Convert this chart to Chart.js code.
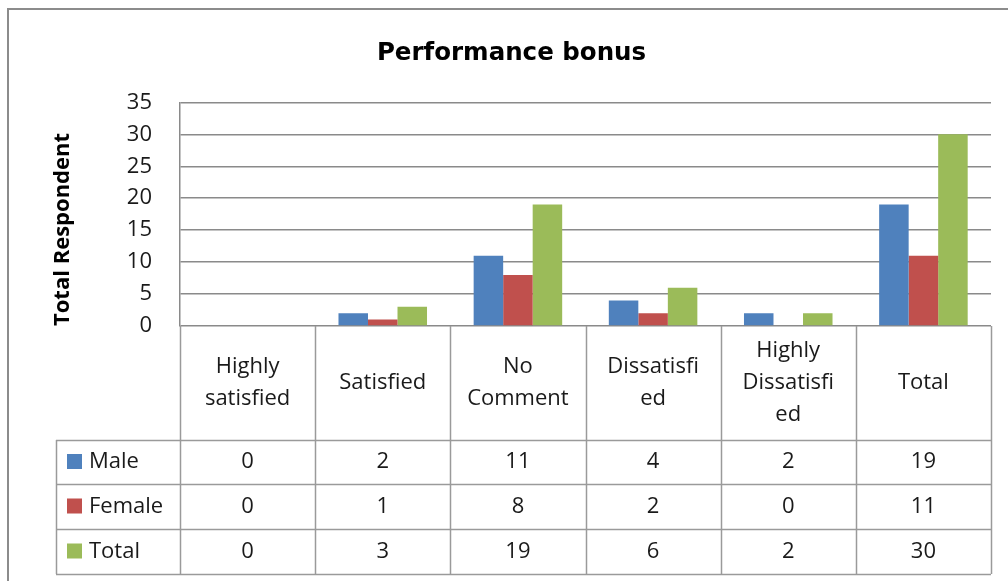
<!DOCTYPE html>
<html>
<head>
<meta charset="utf-8">
<script src="https://cdn.jsdelivr.net/npm/chart.js@4"></script>
<style>
  html, body { margin: 0; padding: 0; background: #fff; }
  #wrap { width: 1008px; height: 581px; }
</style>
</head>
<body>
<div id="wrap"><canvas id="bonusChart" width="1008" height="581"></canvas></div>
<script>
const categories = [
    ['Highly', 'satisfied'], 'Satisfied', ['No', 'Comment'],
    ['Dissatisfi', 'ed'], ['Highly', 'Dissatisfi', 'ed'], 'Total'
];
const maleValues = [0, 2, 11, 4, 2, 19];
const femaleValues = [0, 1, 8, 2, 0, 11];
const totalValues = [0, 3, 19, 6, 2, 30];
const yTicks = [0, 5, 10, 15, 20, 25, 30, 35];

const gridGray = '#8a8a8a';
const tableGray = '#9a9a9a';
const textFont = '"Open Sans", sans-serif';

// draws the outer frame and the data table under the plot
const tablePlugin = {
    id: 'dataTable',
    beforeDraw(chart) {
        const c = chart.ctx;
        c.save();
        c.strokeStyle = '#8c8c8c';
        c.lineWidth = 2;
        c.beginPath();
        c.moveTo(8, chart.height);
        c.lineTo(8, 9);
        c.lineTo(chart.width, 9);
        c.stroke();
        c.restore();
    },
    afterDraw(chart) {
        const c = chart.ctx;
        const xs = chart.scales.x;
        const area = chart.chartArea;
        const n = categories.length;
        const colW = (area.right - area.left) / n;
        const headTop = area.bottom;
        const headBottom = headTop + 114;
        const rowH = [44, 45, 45];
        const legendLeft = 56;

        c.save();
        c.strokeStyle = tableGray;
        c.lineWidth = 1.5;

        // vertical lines
        c.beginPath();
        for (let i = 0; i <= n; i++) {
            const x = Math.round(area.left + i * colW) + 0.5;
            c.moveTo(x, headTop);
            c.lineTo(x, headBottom + rowH[0] + rowH[1] + rowH[2]);
        }
        c.moveTo(legendLeft + 0.5, headBottom);
        c.lineTo(legendLeft + 0.5, headBottom + rowH[0] + rowH[1] + rowH[2]);
        // horizontal lines
        let y = headBottom;
        for (let r = 0; r <= 3; r++) {
            const yy = Math.round(y) + 0.5;
            c.moveTo(legendLeft, yy);
            c.lineTo(area.right, yy);
            if (r < 3) y += rowH[r];
        }
        c.stroke();

        // header labels
        c.fillStyle = '#1a1a1a';
        c.font = '22px ' + textFont;
        c.textAlign = 'center';
        c.textBaseline = 'middle';
        const headMid = (headTop + headBottom) / 2;
        categories.forEach((lab, i) => {
            const lines = Array.isArray(lab) ? lab : [lab];
            const cx = xs.getPixelForValue(i);
            const lh = 32;
            const y0 = headMid - (lines.length - 1) * lh / 2;
            lines.forEach((t, k) => c.fillText(t, cx, y0 + k * lh));
        });

        // rows
        let top = headBottom;
        chart.data.datasets.forEach((ds, r) => {
            const mid = top + rowH[r] / 2;
            c.fillStyle = ds.backgroundColor;
            c.fillRect(67, mid - 8, 15, 15);
            c.fillStyle = '#1a1a1a';
            c.textAlign = 'left';
            c.fillText(ds.label, 89, mid);
            c.textAlign = 'center';
            ds.data.forEach((v, i) => {
                c.fillText(String(v), xs.getPixelForValue(i), mid);
            });
            top += rowH[r];
        });
        c.restore();
    }
};

const config = {
    type: 'bar',
    data: {
        labels: categories,
        datasets: [
            { label: 'Male', data: maleValues, backgroundColor: '#4F81BD' },
            { label: 'Female', data: femaleValues, backgroundColor: '#C0504D' },
            { label: 'Total', data: totalValues, backgroundColor: '#9BBB59' }
        ]
    },
    options: {
        responsive: false,
        animation: false,
        categoryPercentage: 0.655,
        barPercentage: 1.0,
        layout: {
            padding: { left: 32, right: 17, top: 0, bottom: 255 }
        },
        plugins: {
            legend: { display: false },
            tooltip: { enabled: false },
            title: {
                display: true,
                text: 'Performance bonus',
                color: '#000',
                font: { family: '"DejaVu Sans", sans-serif', size: 24.5, weight: 'bold', lineHeight: 1.2 },
                padding: { top: 39, bottom: 34 }
            }
        },
        scales: {
            x: {
                display: false
            },
            y: {
                min: 0,
                max: 35,
                afterFit(scale) { scale.width = 148; },
                afterBuildTicks(scale) {
                    scale.ticks = yTicks.map(v => ({ value: v }));
                },
                grid: {
                    color: gridGray,
                    lineWidth: 1.5,
                    drawTicks: false
                },
                border: { display: true, color: gridGray, width: 1.5 },
                ticks: {
                    color: '#1a1a1a',
                    padding: 28,
                    font: { family: textFont, size: 22 }
                },
                title: {
                    display: true,
                    text: 'Total Respondent',
                    color: '#000',
                    align: 'start',
                    padding: { top: 18, bottom: 0 },
                    font: { family: textFont, size: 22, weight: 'bold', lineHeight: 1.2 }
                }
            }
        }
    },
    plugins: [tablePlugin]
};

const ctx = document.getElementById('bonusChart').getContext('2d');
const bonusChart = new Chart(ctx, config);
</script>
</body>
</html>
